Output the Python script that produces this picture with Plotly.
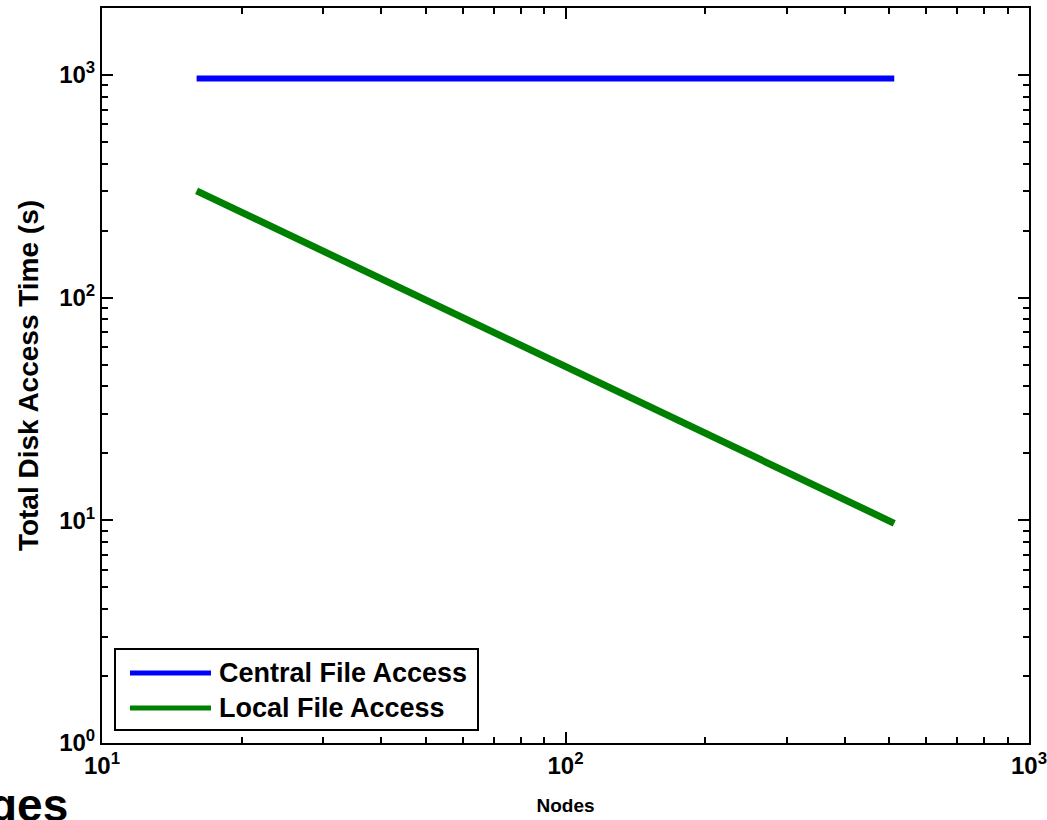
import plotly.graph_objects as go

nodes = [16, 32, 64, 128, 256, 512]
central_time = [965, 965, 965, 965, 965, 965]
local_time = [302, 152, 76, 38.5, 19.3, 9.7]

series_names = ["Central File Access", "Local File Access"]
series_colors = ["#0000FF", "#008000"]

x_tickvals = [10, 100, 1000]
x_ticktext = ["10<sup>1</sup>", "10<sup>2</sup>", "10<sup>3</sup>"]
y_tickvals = [1, 10, 100, 1000]
y_ticktext = ["10<sup>0</sup>", "10<sup>1</sup>", "10<sup>2</sup>", "10<sup>3</sup>"]
x_minor = [m * d for d in [10, 100] for m in range(2, 10)]
y_minor = [m * d for d in [1, 10, 100, 1000] for m in range(2, 10) if m * d < 2000]

FONT = "Arial, Liberation Sans, Helvetica, sans-serif"

W, H = 1047, 820
L, R, T, B = 102, 18, 8, 77
pw, ph = W - L - R, H - T - B


def px(x):
    return (x - L) / pw


def py(y):
    return (H - B - y) / ph


fig = go.Figure()
fig.add_trace(go.Scatter(x=nodes, y=central_time, mode="lines", name=series_names[0],
                         line=dict(color=series_colors[0], width=6), showlegend=False))
fig.add_trace(go.Scatter(x=nodes, y=local_time, mode="lines", name=series_names[1],
                         line=dict(color=series_colors[1], width=7), showlegend=False))

axis_common = dict(
    type="log", automargin=False, ticklabeloverflow="allow",
    showline=True, linecolor="black", linewidth=2,
    mirror="allticks", ticks="inside", ticklen=11, tickwidth=2, tickcolor="black",
    showgrid=False, zeroline=False,
    tickfont=dict(family=FONT, size=24, color="black", weight="bold"),
)

fig.update_xaxes(**axis_common, range=[1, 3], tickvals=x_tickvals, ticktext=x_ticktext,
                 minor=dict(tickmode="array", tickvals=x_minor, ticks="inside", ticklen=6,
                            tickwidth=2, tickcolor="black", showgrid=False),
                 title=dict(text="Nodes", font=dict(family=FONT, size=19, color="black", weight="bold"),
                            standoff=21))
fig.update_yaxes(**axis_common, range=[0, 3.301], tickvals=y_tickvals, ticktext=y_ticktext,
                 minor=dict(tickmode="array", tickvals=y_minor, ticks="inside", ticklen=6,
                            tickwidth=2, tickcolor="black", showgrid=False),
                 title=dict(text="Total Disk Access Time (s)",
                            font=dict(family=FONT, size=28, color="black", weight="bold"),
                            standoff=12))

shapes = []
annotations = []
# manual legend box
lx0, lx1, ly0, ly1 = 115, 478, 649, 730
shapes.append(dict(type="rect", xref="paper", yref="paper",
                   x0=px(lx0), x1=px(lx1), y0=py(ly1), y1=py(ly0),
                   line=dict(color="black", width=2), fillcolor="white", layer="above"))
for i, (name, col, yc) in enumerate(zip(series_names, series_colors, [673, 708])):
    shapes.append(dict(type="line", xref="paper", yref="paper",
                       x0=px(130), x1=px(211), y0=py(yc), y1=py(yc),
                       line=dict(color=col, width=5), layer="above"))
    annotations.append(dict(text=name, xref="paper", yref="paper", x=px(217), y=py(yc),
                            xanchor="left", yanchor="middle", showarrow=False,
                            font=dict(family=FONT, size=27, color="black", weight="bold")))

annotations.append(dict(text="ges", xref="paper", yref="paper", x=px(70), y=py(777),
                        xanchor="right", yanchor="top", showarrow=False,
                        font=dict(family=FONT, size=46, color="black", weight="bold")))

fig.update_layout(
    width=W, height=H,
    margin=dict(l=L, r=R, t=T, b=B),
    paper_bgcolor="white", plot_bgcolor="white",
    shapes=shapes, annotations=annotations,
    showlegend=False,
)

fig.write_html("out.html", config={"displayModeBar": False},
               post_script="document.body.style.margin='0px';document.body.style.overflow='hidden';")
